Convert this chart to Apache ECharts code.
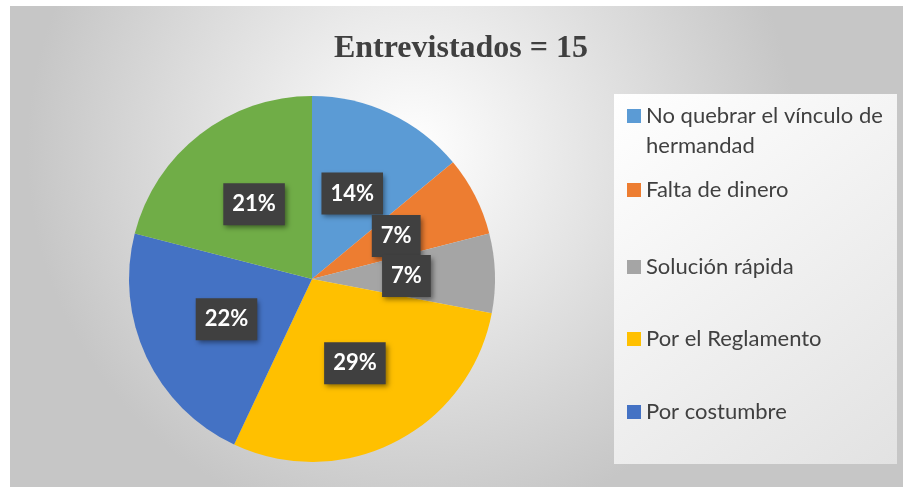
<!DOCTYPE html>
<html><head><meta charset="utf-8">
<script src="https://cdn.jsdelivr.net/npm/echarts@6/dist/echarts.min.js"></script>
<style>html,body{margin:0;padding:0;background:#fff}#c{width:903px;height:487px}</style>
</head><body><div id="c"></div>
<script>
const titleText = 'Entrevistados = 15';
const categories = ['No quebrar el vínculo de hermandad','Falta de dinero','Solución rápida','Por el Reglamento','Por costumbre','Otros'];
const values = [14, 7, 7, 29, 22, 21];
const colors = ['#5B9BD5','#ED7D31','#A5A5A5','#FFC000','#4472C4','#70AD47'];
const legendNames = categories.slice(0, 5);
const legendTops = [116, 189, 266, 338, 411];

const chart = echarts.init(document.getElementById('c'));
const legends = legendNames.map((n, i) => {
  const multi = i === 0;
  return {
    data: [n], orient: 'vertical', left: 622,
    top: multi ? legendTops[i] - 20 : legendTops[i] - 18,
    itemWidth: 14, itemHeight: multi ? 44 : 14,
    icon: multi ? 'path://M0,0h14v14h-14z M0,43.99h0.01v0.01h-0.01z' : 'rect',
    selectedMode: false,
    formatter: multi ? 'No quebrar el vínculo de\nhermandad' : '{name}',
    textStyle: {fontFamily: 'Lato', fontSize: 22, color: '#404040', lineHeight: multi ? 30 : 28}
  };
});
chart.setOption({
  animation: false,
  backgroundColor: '#ffffff',
  color: colors,
  graphic: [
    {type: 'rect', shape: {x: 10, y: 6, width: 893, height: 481}, z: -10,
     style: {fill: {type: 'radial', x: 0.45, y: 0.3, r: 0.8,
       colorStops: [{offset: 0, color: '#ffffff'}, {offset: 1, color: '#c6c6c6'}]}}},
    {type: 'rect', shape: {x: 614, y: 94, width: 283, height: 370}, z: -9,
     style: {fill: {type: 'linear', x: 0, y: 0, x2: 1, y2: 1,
       colorStops: [{offset: 0, color: '#ffffff'}, {offset: 1, color: '#e2e2e2'}]}}}
  ],
  title: {text: titleText, left: 456, top: 28, textAlign: 'center',
    textStyle: {fontFamily: 'Liberation Serif', fontWeight: 'bold', fontSize: 32, color: '#404040'}},
  legend: legends,
  series: [{
    type: 'pie', center: [312, 279], radius: 183, startAngle: 90, clockwise: true,
    data: categories.map((n, i) => ({name: n, value: values[i]})),
    label: {position: 'inside', formatter: '{c}%', color: '#ffffff', fontFamily: 'Lato', fontWeight: 'bold',
      fontSize: 22, lineHeight: 22, backgroundColor: '#404040', padding: [11, 9, 9, 9],
      shadowBlur: 5, shadowOffsetX: 2, shadowOffsetY: 3, shadowColor: 'rgba(0,0,0,0.45)'},
    labelLayout: {hideOverlap: false},
    labelLine: {show: false},
    itemStyle: {borderWidth: 0},
    emphasis: {disabled: true}
  }]
});
</script></body></html>
